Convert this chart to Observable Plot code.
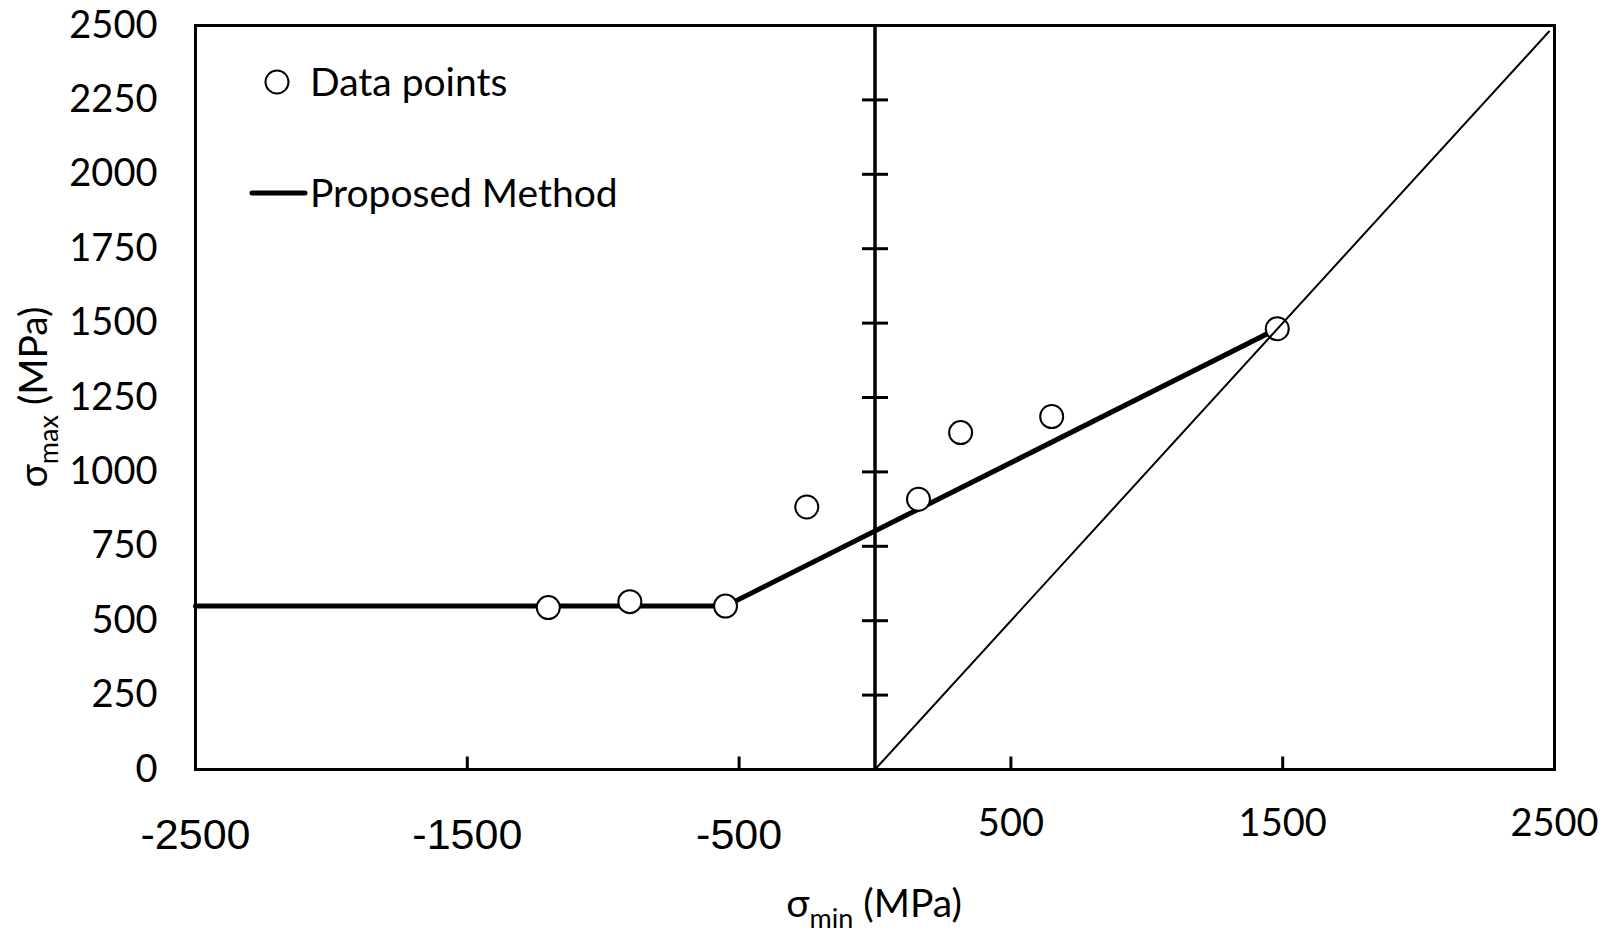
<!DOCTYPE html>
<html>
<head>
<meta charset="utf-8">
<script src="https://cdn.jsdelivr.net/npm/d3@7"></script>
<script src="https://cdn.jsdelivr.net/npm/@observablehq/plot@0.6"></script>
<style>
  html, body { margin: 0; padding: 0; background: #fff; }
  #chart { width: 1610px; height: 933px; }
</style>
</head>
<body>
<div id="chart"></div>
<script>
// ---- data ----
const sigmaMin = [-1202, -902, -550, -251, 160, 315, 650, 1480];
const sigmaMax = [544, 564, 549, 882, 908, 1132, 1186, 1481];

const methodMin = [-2500, -550, 1480];
const methodMax = [549, 549, 1481];

const diagMin = [0, 2480];
const diagMax = [0, 2480];

const yTicks = [0, 250, 500, 750, 1000, 1250, 1500, 1750, 2000, 2250, 2500];
const xTicksNeg = [-2500, -1500, -500];
const xTicksPos = [500, 1500, 2500];
const xTickMarks = [-1500, -500, 500, 1500];
const yAxisCrossing = [0];

const legendLabels = ["Data points", "Proposed Method"];

// ---- tables ----
const points = sigmaMin.map((x, i) => ({x, y: sigmaMax[i]}));
const method = methodMin.map((x, i) => ({x, y: methodMax[i]}));
const diag = diagMin.map((x, i) => ({x, y: diagMax[i]}));

const fmt = d => String(d);

// custom tick symbols (pixel-sized, positioned by scales)
const hTick = {draw(ctx, size) { const r = Math.sqrt(size / Math.PI); ctx.moveTo(-r, 0); ctx.lineTo(r, 0); }};
const upTick = {draw(ctx, size) { const r = Math.sqrt(size / Math.PI); ctx.moveTo(0, 0); ctx.lineTo(0, -r); }};

const W = 1610, H = 933;
const chart = Plot.plot({
  width: W, height: H,
  marginLeft: 195, marginRight: 56, marginTop: 25, marginBottom: 164,
  style: {fontFamily: "Lato", color: "black", background: "white"},
  x: {domain: [-2500, 2500]},
  y: {domain: [0, 2500]},
  marks: [
    Plot.axisY(yTicks, {anchor: "left", tickSize: 0, tickPadding: 38, fontSize: 38, fontFamily: "Lato", tickFormat: fmt, label: null}),
    Plot.axisX(xTicksNeg, {anchor: "bottom", tickSize: 0, tickPadding: 49, fontSize: 43, fontFamily: "Liberation Sans", tickFormat: fmt, label: null}),
    Plot.axisX(xTicksPos, {anchor: "bottom", tickSize: 0, tickPadding: 40, fontSize: 38, fontFamily: "Lato", tickFormat: fmt, label: null}),
    Plot.ruleX(yAxisCrossing, {stroke: "black", strokeWidth: 3.5}),
    Plot.dot(yTicks, {x: () => 0, y: d => d, symbol: hTick, r: 13, stroke: "black", strokeWidth: 3, fill: "none"}),
    Plot.dot(xTickMarks, {x: d => d, y: () => 0, symbol: upTick, r: 13, stroke: "black", strokeWidth: 3, fill: "none"}),
    Plot.line(method, {x: "x", y: "y", stroke: "black", strokeWidth: 5}),
    Plot.dot(points, {x: "x", y: "y", r: 11.5, fill: "white", stroke: "black", strokeWidth: 2}),
    Plot.line(diag, {x: "x", y: "y", stroke: "black", strokeWidth: 2}),
    Plot.frame({stroke: "black", strokeWidth: 3})
  ]
});
document.getElementById("chart").appendChild(chart);

// ---- titles and legend ----
const svg = d3.select(chart);
const xt = svg.append("text")
  .attr("x", 874).attr("y", 917)
  .attr("text-anchor", "middle")
  .attr("font-family", "Lato").attr("font-size", 39).attr("fill", "black");
xt.append("tspan").text("σ");
xt.append("tspan").attr("dy", 11).attr("font-size", 27).text("min");
xt.append("tspan").attr("dy", -11).text(" (MPa)");

const yt = svg.append("text")
  .attr("transform", "translate(47,397) rotate(-90)")
  .attr("text-anchor", "middle")
  .attr("font-family", "Lato").attr("font-size", 39).attr("fill", "black");
yt.append("tspan").text("σ");
yt.append("tspan").attr("dy", 11).attr("font-size", 27).text("max");
yt.append("tspan").attr("dy", -11).text(" (MPa)");

const lg = svg.append("g").attr("text-anchor", "start");
lg.append("circle").attr("cx", 277).attr("cy", 82).attr("r", 11.5)
  .attr("fill", "white").attr("stroke", "black").attr("stroke-width", 2);
lg.append("text").attr("x", 310).attr("y", 96).attr("text-anchor", "start")
  .attr("font-family", "Lato").attr("font-size", 39).attr("fill", "black").text(legendLabels[0]);
lg.append("line").attr("x1", 252).attr("x2", 305).attr("y1", 193).attr("y2", 193)
  .attr("stroke", "black").attr("stroke-width", 5).attr("stroke-linecap", "round");
lg.append("text").attr("x", 310).attr("y", 207).attr("text-anchor", "start")
  .attr("font-family", "Lato").attr("font-size", 39).attr("fill", "black").text(legendLabels[1]);
</script>
</body>
</html>
